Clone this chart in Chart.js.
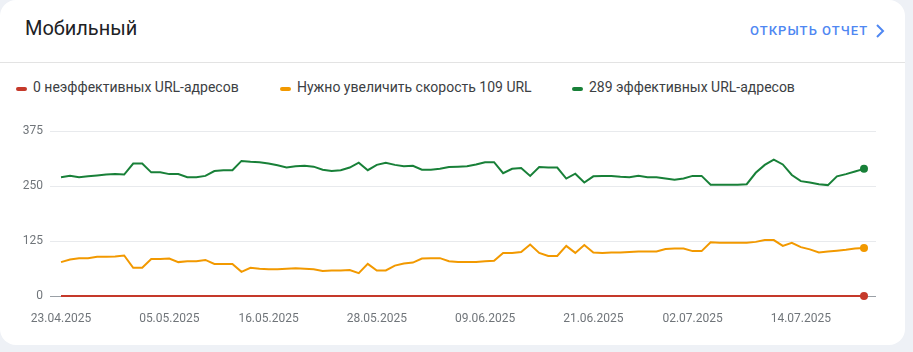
<!DOCTYPE html>
<html>
<head>
<meta charset="utf-8">
<script src="https://cdn.jsdelivr.net/npm/chart.js@4.4.1/dist/chart.umd.min.js"></script>
<style>
  html, body { margin:0; padding:0; width:913px; height:352px; overflow:hidden; background:#eef1f6; font-family: Roboto, "Noto Sans", Arial, sans-serif; }
  #card { position:absolute; left:0; top:0; width:905px; height:345px; background:#fff; border-radius:16px; }
  #title { position:absolute; left:25px; top:16px; font-size:20px; color:#202124; font-weight:400; }
  #link { position:absolute; left:750px; top:23px; font-size:13px; color:#4f87f2; font-weight:500; letter-spacing:1.05px; }
  #chev { position:absolute; left:874px; top:23px; width:12px; height:16px; }
  #divider { position:absolute; left:0; top:62px; width:905px; height:1px; background:#e3e3e3; }
  .leg { position:absolute; top:79px; font-size:14px; color:#3c4043; white-space:nowrap; }
  .leg i { position:absolute; left:-17px; top:8px; width:11px; height:4px; border-radius:2px; }
  #wrap { position:absolute; left:0; top:0; width:913px; height:352px; }
</style>
</head>
<body>
<div id="card">
  <div id="title">Мобильный</div>
  <div id="link">ОТКРЫТЬ ОТЧЕТ</div>
  <svg id="chev" viewBox="0 0 12 16"><path d="M3 2 L9 8 L3 14" fill="none" stroke="#4f87f2" stroke-width="2"/></svg>
  <div id="divider"></div>
  <div class="leg" style="left:33px"><i style="background:#c5392a"></i><span id="l0"></span></div>
  <div class="leg" style="left:297px"><i style="background:#f29900"></i><span id="l1"></span></div>
  <div class="leg" style="left:589px"><i style="background:#188038"></i><span id="l2"></span></div>
</div>
<div id="wrap"><canvas id="c" width="913" height="352"></canvas></div>
<script>
const seriesNames = ["0 неэффективных URL-адресов", "Нужно увеличить скорость 109 URL", "289 эффективных URL-адресов"];
const seriesColors = ["#c5392a", "#f29900", "#188038"];

const poorValues = [
  0,0,0,0,0,0,0,0,0,0, 0,0,0,0,0,0,0,0,0,0, 0,0,0,0,0,0,0,0,0,0,
  0,0,0,0,0,0,0,0,0,0, 0,0,0,0,0,0,0,0,0,0, 0,0,0,0,0,0,0,0,0,0,
  0,0,0,0,0,0,0,0,0,0, 0,0,0,0,0,0,0,0,0,0, 0,0,0,0,0,0,0,0,0,0
];
const needsValues = [
  77,83,86,86,89,89,90,92,64,64, 84,84,85,77,79,79,82,73,73,73,
  55,64,62,61,61,62,63,62,61,57, 58,58,59,52,73,58,58,69,74,76,
  85,86,86,79,77,77,77,79,80,98, 98,100,117,98,91,91,114,98,116,99,
  98,99,99,100,101,101,101,107,108,108, 102,102,122,121,121,121,121,123,127,127,
  114,121,111,106,99,101,103,105,108,109
];
const goodValues = [
  270,273,270,272,274,276,277,276,301,301, 281,281,277,277,270,270,273,284,286,286,
  307,305,304,301,297,292,295,296,294,287, 284,286,292,303,286,298,303,298,295,296,
  287,287,289,293,294,295,299,304,304,279, 289,291,273,293,292,292,267,278,258,272,
  273,273,271,270,273,270,270,267,264,267, 273,273,253,253,253,253,254,280,298,310,
  299,275,261,258,254,252,272,277,283,289
];
const tickIndex = [0, 12, 23, 35, 47, 59, 70, 82];
const tickLabels = ["23.04.2025", "05.05.2025", "16.05.2025", "28.05.2025", "09.06.2025", "21.06.2025", "02.07.2025", "14.07.2025"];
const yTicks = [0, 125, 250, 375];

document.getElementById('l0').textContent = seriesNames[0];
document.getElementById('l1').textContent = seriesNames[1];
document.getElementById('l2').textContent = seriesNames[2];

const lastIdx = goodValues.length - 1;
function mk(vals, i) {
  return {
    label: seriesNames[i],
    data: vals.map((v, k) => ({x: k, y: v})),
    borderColor: seriesColors[i],
    backgroundColor: seriesColors[i],
    borderWidth: 2,
    tension: 0,
    pointRadius: (c) => c.dataIndex === lastIdx ? 4 : 0,
    pointHoverRadius: 0,
    pointBorderWidth: 0,
    clip: false
  };
}

new Chart(document.getElementById('c'), {
  type: 'line',
  data: { datasets: [mk(poorValues, 0), mk(needsValues, 1), mk(goodValues, 2)] },
  options: {
    responsive: false,
    animation: false,
    events: [],
    layout: { padding: { left: 0, top: 131, right: 37, bottom: 0 } },
    plugins: { legend: { display: false }, tooltip: { enabled: false } },
    scales: {
      x: {
        type: 'linear',
        min: -1.22,
        max: 90.33,
        afterBuildTicks: (s) => { s.ticks = tickIndex.map(v => ({value: v})); },
        afterFit: (s) => { s.height = 56; },
        grid: { display: false, drawTicks: false },
        border: { display: false },
        ticks: {
          autoSkip: false, maxRotation: 0, padding: 16,
          color: '#70757a', font: { family: 'Roboto', size: 12 },
          callback: (v) => { const k = tickIndex.indexOf(v); return k >= 0 ? tickLabels[k] : ''; }
        }
      },
      y: {
        min: 0, max: 375,
        afterBuildTicks: (s) => { s.ticks = yTicks.map(v => ({value: v})); },
        afterFit: (s) => { s.width = 50; },
        grid: { drawTicks: false, color: (c) => c.tick && c.tick.value === 0 ? '#9aa0a6' : '#e8eaed', lineWidth: 1 },
        border: { display: false },
        ticks: { padding: 7, color: '#70757a', font: { family: 'Roboto', size: 12 } }
      }
    }
  }
});
</script>
</body>
</html>
